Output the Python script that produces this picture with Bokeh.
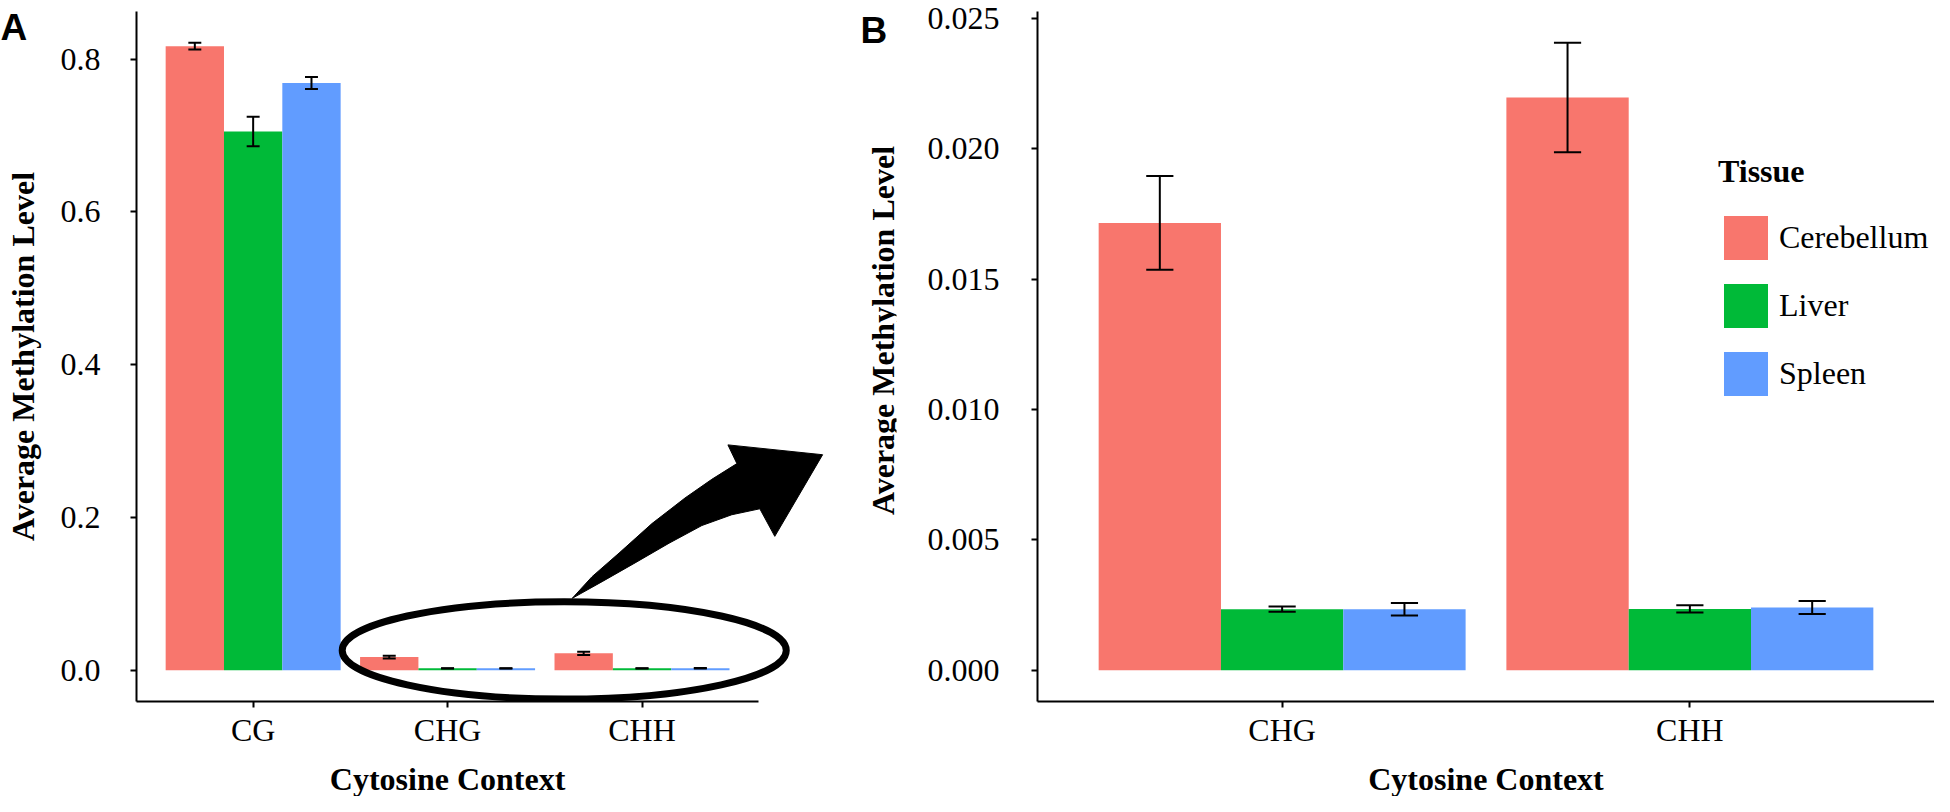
import math
from bokeh.plotting import figure
from bokeh.models import (FixedTicker, PrintfTickFormatter, Label, Legend,
                          LegendItem, ColumnDataSource)
from bokeh.layouts import row
from bokeh.embed import file_html
from bokeh.resources import INLINE

# ---------------- data ----------------
contexts = ["CG", "CHG", "CHH"]
tissues = ["Cerebellum", "Liver", "Spleen"]
colors = ["#F8766D", "#00BA38", "#619CFF"]

cerebellum = [0.8172, 0.01716, 0.02197]
cerebellum_err = [0.0043, 0.0018, 0.0021]
liver = [0.7054, 0.00234, 0.00235]
liver_err = [0.0193, 0.00010, 0.00014]
spleen = [0.7690, 0.00234, 0.00240]
spleen_err = [0.0078, 0.00024, 0.00025]

a_ticks = [0.0, 0.2, 0.4, 0.6, 0.8]
b_ticks = [0.000, 0.005, 0.010, 0.015, 0.020, 0.025]

# annotation shapes (panel A data units): zoom ellipse and curved arrow
ellipse_center = (2.600, 0.0258)
ellipse_size = (2.284, 0.1275)
arrow_x = [2.641, 2.743, 2.882, 3.051, 3.221, 3.359, 3.488, 3.442, 3.929,
           3.683, 3.606, 3.462, 3.308, 3.139, 2.964, 2.795]
arrow_y = [0.0940, 0.1224, 0.1533, 0.1919, 0.2254, 0.2499, 0.2705, 0.2950,
           0.2821, 0.1752, 0.2113, 0.2035, 0.1894, 0.1662, 0.1404, 0.1159]

values = [cerebellum, liver, spleen]
errors = [cerebellum_err, liver_err, spleen_err]

FONT = "Liberation Serif"
DODGE = 0.9
BAR_W = DODGE / 3
CAP_W = 0.2 / 3
H = 796
Y_TITLE = "Average Methylation Level"
X_TITLE = "Cytosine Context"


def yrange(ctx_idx):
    m = max(values[k][i] + errors[k][i] for k in range(3) for i in ctx_idx)
    return (-0.05 * m, 1.05 * m)


def style_axis(ax):
    ax.axis_line_width = 2
    ax.axis_line_color = "black"
    ax.major_tick_line_width = 2
    ax.major_tick_line_color = "black"
    ax.major_tick_out = 6
    ax.major_tick_in = 0
    ax.minor_tick_line_color = None
    ax.major_label_text_font = FONT
    ax.major_label_text_font_size = "32px"
    ax.major_label_text_color = "black"
    ax.axis_label_text_font = FONT
    ax.axis_label_text_font_size = "32px"
    ax.axis_label_text_font_style = "bold"
    ax.axis_label_text_color = "black"


def style(p, ylab_standoff, ytitle_standoff, ytitle):
    p.xgrid.visible = False
    p.ygrid.visible = False
    p.outline_line_color = None
    p.background_fill_color = "white"
    p.border_fill_color = "white"
    style_axis(p.xaxis[0])
    style_axis(p.yaxis[0])
    p.xaxis[0].major_label_standoff = 4
    p.yaxis[0].major_label_standoff = ylab_standoff
    p.yaxis[0].axis_label_standoff = ytitle_standoff
    if ytitle:
        p.yaxis[0].axis_label = Y_TITLE


def x_title(x):
    # x-axis title as a side-panel label so it can sit centred under the
    # bounded axis and low, as in the original figure
    return Label(x=x, y=778, x_units="canvas", y_units="canvas", text=X_TITLE,
                 text_font=FONT, text_font_size="32px", text_font_style="bold",
                 text_color="black", text_align="center", text_baseline="middle")


def draw(p, ctx_idx):
    rends = []
    pos = list(range(1, len(ctx_idx) + 1))
    for k in range(3):
        xs = [x + (k - 1) * BAR_W for x in pos]
        v = [values[k][i] for i in ctx_idx]
        e = [errors[k][i] for i in ctx_idx]
        src = ColumnDataSource(dict(
            x=xs, top=v,
            lo=[a - b for a, b in zip(v, e)],
            hi=[a + b for a, b in zip(v, e)],
            cl=[x - CAP_W / 2 for x in xs],
            cr=[x + CAP_W / 2 for x in xs]))
        r = p.vbar(x="x", top="top", bottom=0, width=BAR_W, source=src,
                   fill_color=colors[k], line_color=None)
        rends.append(r)
        p.segment(x0="x", x1="x", y0="lo", y1="hi", source=src,
                  line_color="black", line_width=2)
        p.segment(x0="cl", x1="cr", y0="hi", y1="hi", source=src,
                  line_color="black", line_width=2)
        p.segment(x0="cl", x1="cr", y0="lo", y1="lo", source=src,
                  line_color="black", line_width=2)
    p.xaxis[0].ticker = FixedTicker(ticks=pos, minor_ticks=[])
    p.xaxis[0].major_label_overrides = {x: contexts[i] for x, i in zip(pos, ctx_idx)}
    return rends


def panel_tag(text, x, y):
    return Label(x=x, y=y, x_units="canvas", y_units="canvas", text=text,
                 text_font="Liberation Sans", text_font_style="bold",
                 text_font_size="37px", text_align="left",
                 text_baseline="alphabetic", text_color="black")


WA = 924
WB = 1934 - WA
B_FRAME_LEFT = 1037 - WA
A_LEFT = 136
A_RIGHT = 28
A_XR = (0.4, 4.309)

# ---------------- panel A ----------------
# A's frame is extended (invisibly) to the right so that the arrow, the "B"
# tag and panel B's y title can be drawn on this canvas; its axis is bounded.
a_idx = [0, 1, 2]
pA = figure(width=WA, height=H, x_range=A_XR, y_range=yrange(a_idx),
            output_backend="svg", toolbar_location=None,
            min_border_left=A_LEFT, min_border_right=A_RIGHT,
            min_border_top=2, min_border_bottom=95)
style(pA, 30, 17, True)
draw(pA, a_idx)
pA.xaxis[0].bounds = (0.4, 3.6)
pA.yaxis[0].ticker = FixedTicker(ticks=a_ticks, minor_ticks=[])
pA.yaxis[0].formatter = PrintfTickFormatter(format="%.1f")
pA.ellipse(x=[ellipse_center[0]], y=[ellipse_center[1]],
           width=[ellipse_size[0]], height=[ellipse_size[1]],
           fill_color=None, line_color="black", line_width=7)
pA.patch(arrow_x, arrow_y, fill_color="black", line_color="black", line_width=1)

a_unit = (WA - A_LEFT - A_RIGHT) / (A_XR[1] - A_XR[0])
a_axis_mid = A_LEFT + (2.0 - A_XR[0]) * a_unit
pA.add_layout(x_title(a_axis_mid), "below")
pA.add_layout(panel_tag("A", 0, 27), "right")
pA.add_layout(panel_tag("B", 860, 30))
pA.add_layout(Label(x=882, y=330, x_units="canvas", y_units="canvas",
                    text=Y_TITLE, angle=math.pi / 2, angle_units="rad",
                    text_font=FONT, text_font_size="32px",
                    text_font_style="bold", text_color="black",
                    text_align="center", text_baseline="middle"))

# ---------------- panel B ----------------
b_idx = [1, 2]
pB = figure(width=WB, height=H, x_range=(0.4, 2.6), y_range=yrange(b_idx),
            output_backend="svg", toolbar_location=None,
            min_border_left=B_FRAME_LEFT, min_border_right=0,
            min_border_top=11, min_border_bottom=95)
style(pB, 32, 0, False)
rb = draw(pB, b_idx)
pB.yaxis[0].ticker = FixedTicker(ticks=b_ticks, minor_ticks=[])
pB.yaxis[0].formatter = PrintfTickFormatter(format="%.3f")
pB.add_layout(x_title(B_FRAME_LEFT + (WB - B_FRAME_LEFT) / 2), "below")
legend = Legend(items=[LegendItem(label=t, renderers=[r]) for t, r in zip(tissues, rb)],
                location=(681, 300), title="Tissue",
                title_text_font=FONT, title_text_font_size="32px",
                title_text_font_style="bold", title_text_color="black",
                title_standoff=20,
                label_text_font=FONT, label_text_font_size="32px",
                label_text_color="black",
                glyph_width=55, glyph_height=55, spacing=13, label_standoff=6,
                padding=0, margin=0, border_line_color=None,
                background_fill_alpha=0)
pB.add_layout(legend)

layout = row(pA, pB)
open("out.html", "w").write(file_html(layout, INLINE))
